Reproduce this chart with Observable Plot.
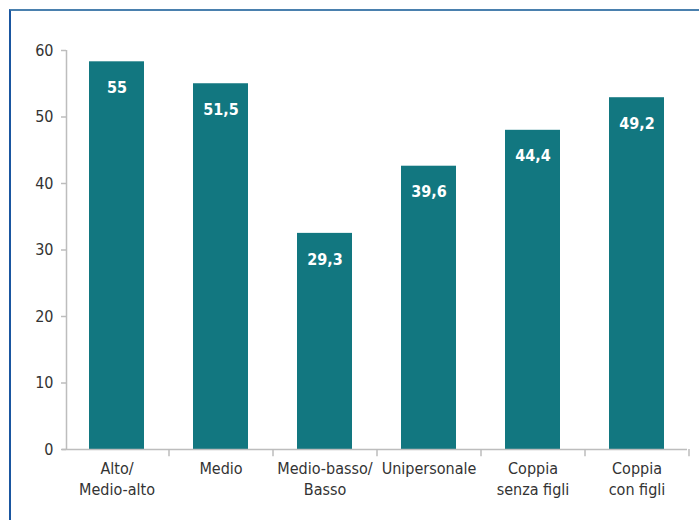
<!DOCTYPE html>
<html>
<head>
<meta charset="utf-8">
<script src="https://cdn.jsdelivr.net/npm/d3@7"></script>
<script src="https://cdn.jsdelivr.net/npm/@observablehq/plot@0.6"></script>
<style>
  html, body { margin: 0; padding: 0; background: #fff; }
  #wrap { position: relative; width: 699px; height: 520px; overflow: hidden; }
  #frame { position: absolute; left: 9px; top: 9px; right: -5px; bottom: -5px;
           border-left: 2px solid #1a56a0; border-top: 2px solid #4a80ae; pointer-events: none; }
  svg { display: block; }
</style>
</head>
<body>
<div id="wrap"><div id="frame"></div></div>
<script>
// Data
const categories = ["Alto/\nMedio-alto", "Medio", "Medio-basso/\nBasso", "Unipersonale", "Coppia\nsenza figli", "Coppia\ncon figli"];
const barValues = [58.3, 55.0, 32.5, 42.6, 48.0, 52.9];
const valueLabels = ["55", "51,5", "29,3", "39,6", "44,4", "49,2"];
const yTicks = [0, 10, 20, 30, 40, 50, 60];

const data = categories.map((c, i) => ({cat: c, value: barValues[i], label: valueLabels[i]}));

const font = "'Liberation Sans Narrow', 'DejaVu Sans Condensed', 'Roboto Condensed', sans-serif";
const teal = "#127780";
const grey = "#bdbdbd";
const ink = "#333333";

const chart = Plot.plot({
  width: 699,
  height: 520,
  marginTop: 50,
  marginBottom: 71,
  marginLeft: 66,
  marginRight: 12,
  style: {fontFamily: font, fontSize: "16px", color: ink, background: "transparent"},
  x: {domain: categories, paddingInner: 0.471, paddingOuter: 0.221, label: null},
  y: {domain: [0, 60], label: null},
  marks: [
    Plot.barY(data, {x: "cat", y: "value", fill: teal}),
    Plot.text(data, {x: "cat", y: "value", text: "label", fill: "white", fontWeight: "bold", fontSize: 16, dy: 26}),
    // y axis line
    Plot.ruleX([categories[0]], {dx: -50.5, y1: 0, y2: 60, stroke: grey, strokeWidth: 1.5}),
    // baseline
    Plot.ruleY([0], {stroke: grey, strokeWidth: 1.5, insetLeft: -4}),
    // category boundary ticks
    Plot.ruleX(categories.slice(1), {dx: -52, y1: 0, y2: -1.1, stroke: grey, strokeWidth: 1.5}),
    Plot.ruleX([categories[categories.length - 1]], {dx: 52, y1: 0, y2: -1.1, stroke: grey, strokeWidth: 1.5}),
    Plot.axisY({ticks: yTicks, tickSize: 5, tickPadding: 8, stroke: grey, strokeWidth: 1.5, fill: ink, fontSize: 16}),
    Plot.axisX({tickSize: 0, tickPadding: 10, fill: ink, fontSize: 16, lineHeight: 1.3})
  ]
});
document.getElementById("wrap").insertBefore(chart, document.getElementById("frame"));
</script>
</body>
</html>
